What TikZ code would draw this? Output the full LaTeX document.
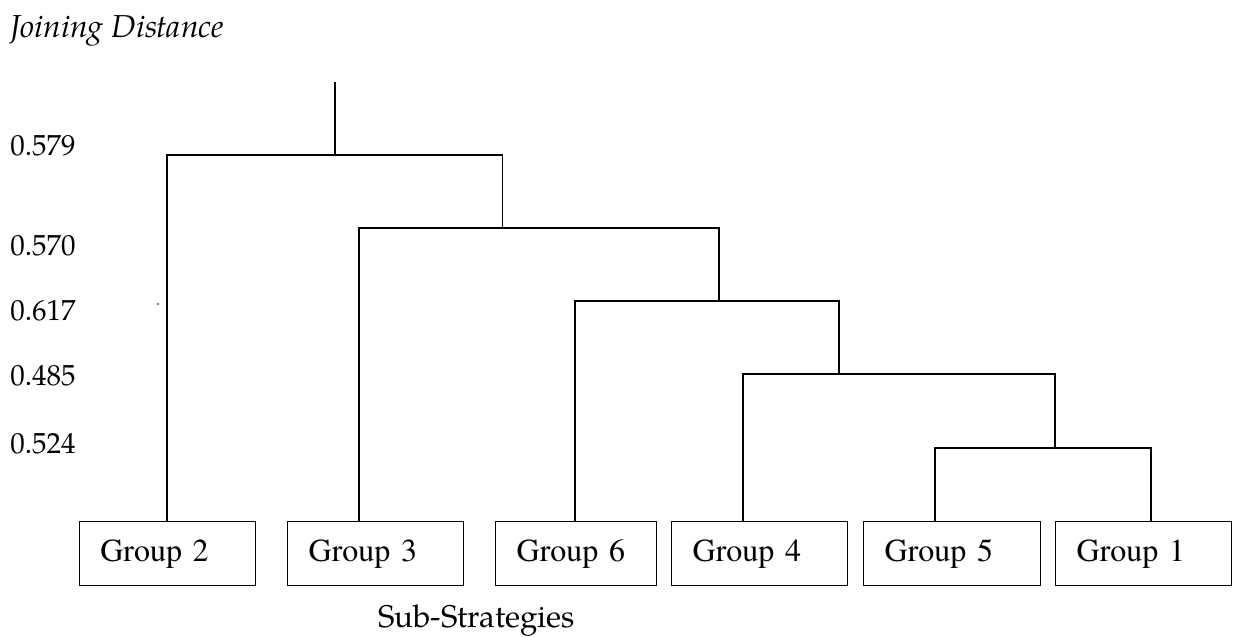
\documentclass[tikz,border=0pt]{standalone}
\usepackage{fontspec}
\setmainfont{TeX Gyre Pagella}
\newfontfamily\timesf{TeX Gyre Termes}
\begin{document}
\begin{tikzpicture}[x=0.75pt,y=-0.75pt,
  link/.style={draw=black,line width=1pt},
  grp/.style={draw=black,line width=1pt,rectangle,minimum height=48pt,
    inner xsep=15.75pt,inner ysep=0pt,align=left,anchor=north west,
    font=\timesf\fontsize{24}{28}\selectfont},
  level/.style={anchor=base west,inner sep=0pt,font=\fontsize{21.75}{26}\selectfont},
  heading/.style={anchor=base west,inner sep=0pt}]
\useasboundingbox (0,0) rectangle (1236,636);

% axis caption and distance values
\node[heading,font=\itshape\fontsize{23.8}{28}\selectfont] (title) at (10,37) {Joining Distance};
\node[level] (d1) at (10,155) {0.579};
\node[level] (d2) at (10,255) {0.570};
\node[level] (d3) at (10,320) {0.617};
\node[level] (d4) at (10,385) {0.485};
\node[level] (d5) at (10,453) {0.524};
\fill (158,304) circle[radius=0.8];

% leaf boxes
\node[grp,text width={176.4*0.75pt-31.5pt}] (g2) at (78.6,521) {Group 2};
\node[grp,text width={176*0.75pt-31.5pt}] (g3) at (287,521) {Group 3};
\node[grp,text width={161*0.75pt-31.5pt}] (g6) at (495,521) {Group 6};
\node[grp,text width={176*0.75pt-31.5pt}] (g4) at (671,521) {Group 4};
\node[grp,text width={177*0.75pt-31.5pt}] (g5) at (863,521) {Group 5};
\node[grp,text width={176*0.75pt-31.5pt}] (g1) at (1055,521) {Group 1};

\node[heading,font=\fontsize{23.5}{28}\selectfont] (xcap) at (378,627) {Sub-Strategies};

% attachment columns of the leaves
\coordinate (a2) at (167,0);
\coordinate (a3) at (359,0);
\coordinate (a6) at (575,0);
\coordinate (a4) at (743,0);
\coordinate (a5) at (935,0);
\coordinate (a1) at (1151,0);

% merge points
\coordinate (r)  at (335,82);
\coordinate (c1) at (335,155);
\coordinate (c2) at (502.7,228);
\coordinate (c3) at (719,301);
\coordinate (c4) at (839,374);
\coordinate (c5) at (1055,448);

% dendrogram
\draw[link] (r) -- (c1);
\draw[link] (a2 |- g2.north) |- (c1) -| (c2);
\draw[link] (a3 |- g3.north) |- (c2) -| (c3);
\draw[link] (a6 |- g6.north) |- (c3) -| (c4);
\draw[link] (a4 |- g4.north) |- (c4) -| (c5);
\draw[link] (a5 |- g5.north) |- (c5) -| (a1 |- g1.north);
\end{tikzpicture}
\end{document}
